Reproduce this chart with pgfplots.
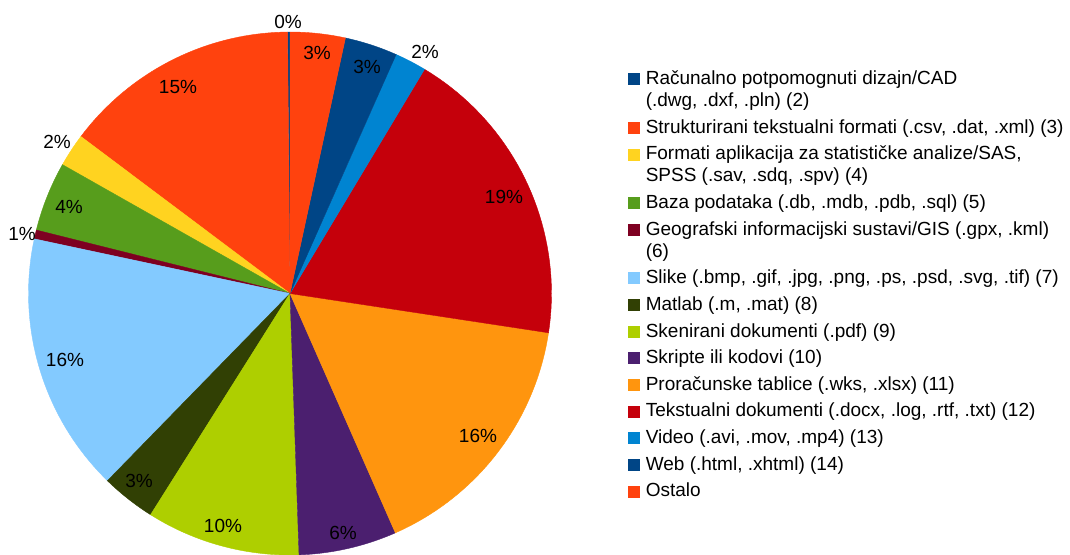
\documentclass[border=0pt]{standalone}
\usepackage{pgfplots}
\pgfplotsset{compat=1.18}
\usepackage{fontspec}
\setmainfont{Liberation Sans}

% LibreOffice default palette
\definecolor{c1}{HTML}{004586}
\definecolor{c2}{HTML}{FF420E}
\definecolor{c3}{HTML}{FFD320}
\definecolor{c4}{HTML}{579D1C}
\definecolor{c5}{HTML}{7E0021}
\definecolor{c6}{HTML}{83CAFF}
\definecolor{c7}{HTML}{314004}
\definecolor{c8}{HTML}{AECF00}
\definecolor{c9}{HTML}{4B1F6F}
\definecolor{c10}{HTML}{FF950E}
\definecolor{c11}{HTML}{C5000B}
\definecolor{c12}{HTML}{0084D1}

% pie centre (290,260.5), radius 261.5, angles counter-clockwise from top
\gdef\angA{0}
\newcommand\slice[2]{%
  \pgfmathsetmacro\angB{\angA+3.6*#1}%
  \edef\tmp{\noexpand\addplot[fill=#2, draw=#2, line width=0.2pt,
      domain=\angA:\angB, samples=40, variable=\noexpand\t]
    ({290-261.5*sin(\noexpand\t)},{260.5+261.5*cos(\noexpand\t)})
    -- (axis cs:290,260.5) -- cycle;}%
  \tmp
  \global\let\angA\angB
}
\newcommand\entry[1]{\begin{tabular}[t]{@{}l@{}}#1\end{tabular}}

\begin{document}
\begin{tikzpicture}[font=\fontsize{9.5}{11}\selectfont]
\begin{axis}[
  x=0.5pt, y=0.5pt,
  xmin=0, xmax=1070, ymin=0, ymax=554,
  ticks=none,
  axis line style={draw=none},
  legend style={
    at={(0.5869,0.8762)}, anchor=north west,
    draw=none, fill=none, inner sep=0pt,
    row sep=2.33pt, column sep=3pt,
    font=\fontsize{9.5}{11}\selectfont,
    cells={anchor=base west},
    nodes={inner sep=0pt, text depth=},
  },
  legend image code/.code={\fill[#1] (0pt,0pt) rectangle (5.5pt,5.5pt);},
  legend entries={
    {\entry{Računalno potpomognuti dizajn/CAD\\(.dwg, .dxf, .pln) (2)}},
    {\entry{Strukturirani tekstualni formati (.csv, .dat, .xml) (3)}},
    {\entry{Formati aplikacija za statističke analize/SAS,\\SPSS (.sav, .sdq, .spv) (4)}},
    {\entry{Baza podataka (.db, .mdb, .pdb, .sql) (5)}},
    {\entry{Geografski informacijski sustavi/GIS (.gpx, .kml)\\(6)}},
    {\entry{Slike (.bmp, .gif, .jpg, .png, .ps, .psd, .svg, .tif) (7)}},
    {\entry{Matlab (.m, .mat) (8)}},
    {\entry{Skenirani dokumenti (.pdf) (9)}},
    {\entry{Skripte ili kodovi (10)}},
    {\entry{Proračunske tablice (.wks, .xlsx) (11)}},
    {\entry{Tekstualni dokumenti (.docx, .log, .rtf, .txt) (12)}},
    {\entry{Video (.avi, .mov, .mp4) (13)}},
    {\entry{Web (.html, .xhtml) (14)}},
    {\entry{Ostalo}},
  },
]
% shares in percent
\slice{0.15}{c1}
\slice{14.6}{c2}
\slice{2.05}{c3}
\slice{4.3}{c4}
\slice{0.55}{c5}
\slice{16.05}{c6}
\slice{3.35}{c7}
\slice{9.5}{c8}
\slice{6.05}{c9}
\slice{16.0}{c10}
\slice{18.8}{c11}
\slice{1.95}{c12}
\slice{3.25}{c1}
\slice{3.4}{c2}

% slice labels
\addplot[draw=none, point meta=explicit symbolic,
  nodes near coords={\pgfplotspointmeta\%},
  every node near coord/.append style={anchor=center, inner sep=0pt,
    text=black, font=\fontsize{9.5}{11}\selectfont}]
  table[meta=lab] {
x y lab
288 532 0
317 501 3
367 487 3
425 502 2
504 357 19
478 118 16
343 21 6
223 28 10
139 73 3
65 194 16
22 320 1
69 347 4
57 412 2
178 467 15
};
\end{axis}
\end{tikzpicture}
\end{document}
